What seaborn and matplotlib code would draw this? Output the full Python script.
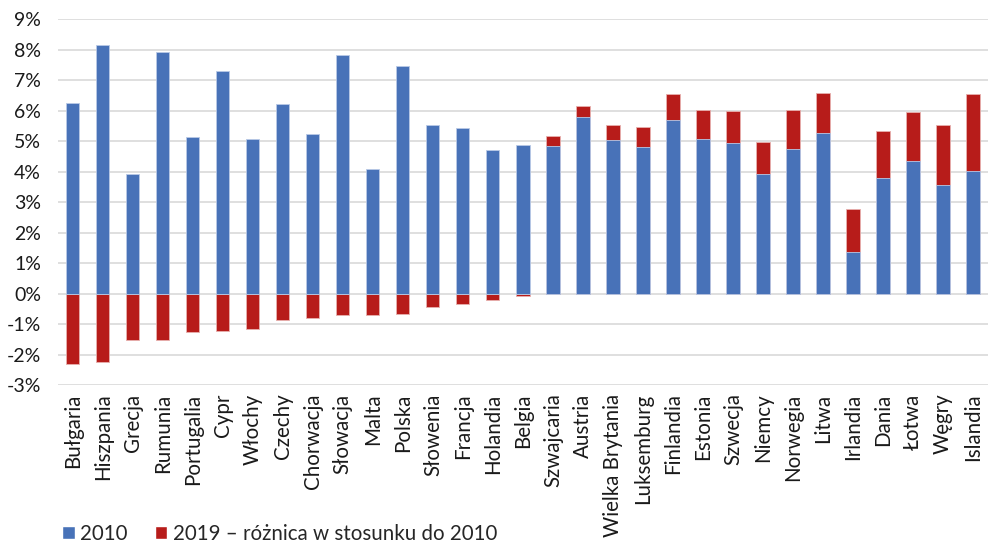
import numpy as np
import pandas as pd
import matplotlib
matplotlib.use("Agg")
import matplotlib.pyplot as plt
from matplotlib.patches import Patch
import seaborn as sns

countries = ["Bułgaria", "Hiszpania", "Grecja", "Rumunia", "Portugalia", "Cypr",
             "Włochy", "Czechy", "Chorwacja", "Słowacja", "Malta", "Polska",
             "Słowenia", "Francja", "Holandia", "Belgia", "Szwajcaria", "Austria",
             "Wielka Brytania", "Luksemburg", "Finlandia", "Estonia", "Szwecja",
             "Niemcy", "Norwegia", "Litwa", "Irlandia", "Dania", "Łotwa", "Węgry",
             "Islandia"]
values_2010 = [6.26, 8.16, 3.94, 7.93, 5.13, 7.31, 5.07, 6.21, 5.23, 7.82, 4.09,
               7.47, 5.53, 5.42, 4.72, 4.87, 4.83, 5.79, 5.03, 4.81, 5.70, 5.06,
               4.93, 3.91, 4.76, 5.26, 1.38, 3.81, 4.36, 3.56, 4.02]
diff_2019 = [-2.32, -2.25, -1.53, -1.53, -1.25, -1.24, -1.17, -0.88, -0.79, -0.69,
             -0.69, -0.66, -0.43, -0.33, -0.21, -0.07, 0.33, 0.35, 0.49, 0.65,
             0.86, 0.98, 1.05, 1.08, 1.25, 1.33, 1.41, 1.54, 1.60, 1.97, 2.53]
y_ticks = list(range(-3, 10))
legend_labels = ["2010", "2019 – różnica w stosunku do 2010"]

BLUE = "#4872b8"
RED = "#b71c1a"

sns.set_theme(style="white")
plt.rcParams["font.family"] = ["Lato", "DejaVu Sans"]

df = pd.DataFrame({"kraj": countries, "base": values_2010, "diff": diff_2019})
base = df["base"].to_numpy()
diff = df["diff"].to_numpy()
# red segment: stacked on top of the 2010 bar when positive, hanging below zero when negative
df["red"] = np.where(diff > 0, base + diff, diff)

fig = plt.figure(figsize=(9.88, 5.47), dpi=100)
ax = fig.add_axes([0.0585, 0.296, 0.9415, 0.6687])

sns.barplot(data=df, x="kraj", y="red", color=RED, saturation=1, width=0.44,
            edgecolor="#e8b0ae", linewidth=0.6, ax=ax, zorder=3)
sns.barplot(data=df, x="kraj", y="base", color=BLUE, saturation=1, width=0.44,
            edgecolor="#b9c9e6", linewidth=0.6, ax=ax, zorder=3)

ax.set_ylim(-3, 9)
ax.set_xlim(-0.5, len(countries) - 0.5)
ax.set_yticks(y_ticks)
ax.set_yticklabels([f"{v}%" for v in y_ticks])
ax.yaxis.grid(True, color="#d9d9d9", linewidth=1.2, zorder=0)
ax.set_axisbelow(True)
for s in ax.spines.values():
    s.set_visible(False)
ax.tick_params(axis="y", length=0, pad=12, labelsize=14, colors="#1a1a1a")
ax.tick_params(axis="x", length=0, pad=6, labelsize=14.8, colors="#1a1a1a")
plt.setp(ax.get_xticklabels(), rotation=90)
ax.set_xlabel("")
ax.set_ylabel("")

handles = [Patch(facecolor=BLUE), Patch(facecolor=RED)]
fig.legend(handles, legend_labels, loc="center left", bbox_to_anchor=(0.063, 0.024),
           ncol=2, frameon=False, fontsize=14.8, handlelength=0.6, handleheight=0.6,
           handletextpad=0.28, columnspacing=1.3, borderaxespad=0, borderpad=0)

fig.savefig("out.png", dpi=100, facecolor="white")
